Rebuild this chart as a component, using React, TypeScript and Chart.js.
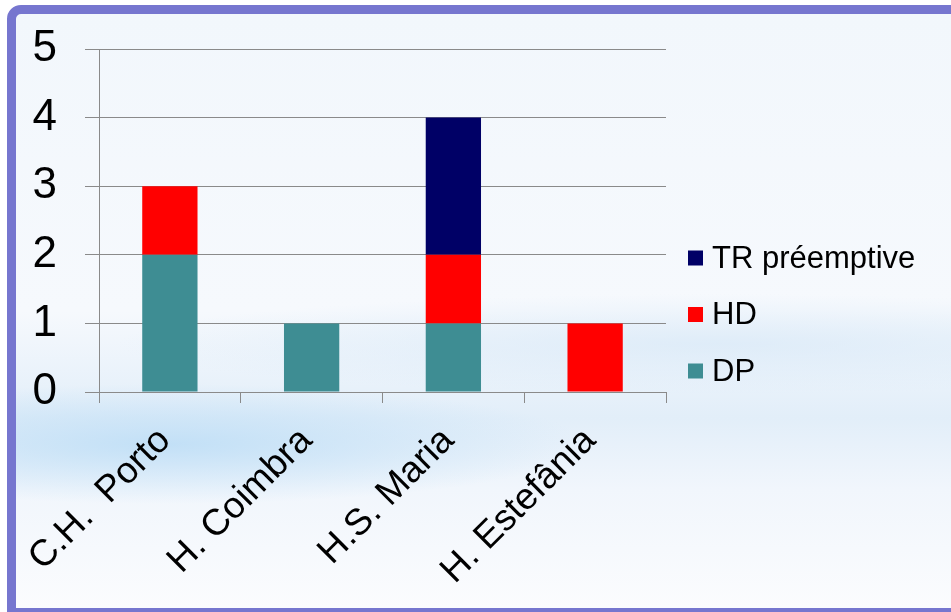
import React, { useEffect, useRef } from "react";
import { Chart, registerables } from "chart.js";

Chart.register(...registerables);

const categories = ["C.H.  Porto", "H. Coimbra", "H.S. Maria", "H. Estefânia"];
const dpValues = [2, 1, 1, 0];
const hdValues = [1, 0, 1, 1];
const trValues = [0, 0, 2, 0];
const seriesNames = ["DP", "HD", "TR préemptive"];
const seriesColors = ["#3E8D93", "#FF0000", "#000066"];
const yTicks = [0, 1, 2, 3, 4, 5];

const FONT = '"Liberation Sans", Arial, sans-serif';

const sideLegend = {
  id: "sideLegend",
  afterDraw(chart: any) {
    const { ctx, chartArea } = chart;
    const items = chart.data.datasets.map((d: any) => d).reverse();
    ctx.save();
    ctx.font = `31px ${FONT}`;
    ctx.textBaseline = "middle";
    ctx.textAlign = "left";
    const x0 = chartArea.right + 22;
    const y0 = chartArea.top + 209;
    const gap = 56.5;
    items.forEach((ds: any, i: number) => {
      const cy = y0 + i * gap;
      ctx.fillStyle = ds.backgroundColor;
      ctx.fillRect(x0, cy - 7.5, 15, 15);
      ctx.fillStyle = "#000";
      ctx.fillText(ds.label, x0 + 24, cy + 1);
    });
    ctx.restore();
  },
};

export default function App() {
  const ref = useRef<HTMLCanvasElement | null>(null);

  useEffect(() => {
    document.body.style.margin = "0";
    const canvas = ref.current!;
    const chart = new Chart(canvas, {
      type: "bar",
      data: {
        labels: categories,
        datasets: [
          { label: seriesNames[0], data: dpValues, backgroundColor: seriesColors[0] },
          { label: seriesNames[1], data: hdValues, backgroundColor: seriesColors[1] },
          { label: seriesNames[2], data: trValues, backgroundColor: seriesColors[2] },
        ],
      },
      options: {
        responsive: false,
        animation: false,
        devicePixelRatio: 1,
        layout: { padding: { top: 49, right: 285, left: 0, bottom: 0 } },
        datasets: { bar: { categoryPercentage: 1, barPercentage: 0.39 } },
        plugins: {
          legend: { display: false },
          tooltip: { enabled: false },
        },
        scales: {
          x: {
            stacked: true,
            afterFit: (s: any) => {
              s.height = 220;
            },
            grid: {
              display: true,
              offset: true,
              drawOnChartArea: false,
              tickLength: 11,
              color: "#8a8a8a",
              lineWidth: 1,
            },
            border: { display: true, color: "#8a8a8a", width: 1 },
            ticks: {
              autoSkip: false,
              minRotation: 45,
              maxRotation: 45,
              padding: 16,
              labelOffset: -5,
              color: "#000",
              font: { family: FONT, size: 37 },
            },
          },
          y: {
            stacked: true,
            min: 0,
            max: 5,
            afterFit: (s: any) => {
              s.width = 99;
              s.paddingTop = 0;
              s.paddingBottom = 0;
            },
            afterBuildTicks: (s: any) => {
              s.ticks = yTicks.map((v) => ({ value: v }));
            },
            grid: {
              color: "#8a8a8a",
              lineWidth: 1,
              tickLength: 14,
            },
            border: { display: true, color: "#8a8a8a", width: 1 },
            ticks: {
              padding: 28,
              color: "#000",
              font: { family: FONT, size: 44 },
            },
          },
        },
      },
      plugins: [sideLegend],
    });
    return () => chart.destroy();
  }, []);

  return (
    <div
      style={{
        position: "fixed",
        left: 0,
        top: 0,
        width: 951,
        height: 612,
        overflow: "hidden",
        background: "#ffffff",
      }}
    >
      <div
        style={{
          position: "absolute",
          left: 7,
          top: 5,
          width: 1000,
          height: 612,
          border: "9px solid #7676CF",
          borderTopLeftRadius: 14,
          boxSizing: "border-box",
          background:
            "radial-gradient(ellipse 420px 60px at 150px 430px, rgba(190,222,246,0.9), rgba(190,222,246,0) 100%), radial-gradient(ellipse 600px 50px at 700px 330px, rgba(215,232,247,0.7), rgba(215,232,247,0) 100%), linear-gradient(to bottom, #f2f7fc 0%, #f6f9fd 50%, #e2eef9 68%, #f1f6fc 80%, #fbfcfe 100%)",
        }}
      />
      <canvas
        ref={ref}
        width={951}
        height={612}
        style={{ position: "absolute", left: 0, top: 0, width: 951, height: 612 }}
      />
    </div>
  );
}
